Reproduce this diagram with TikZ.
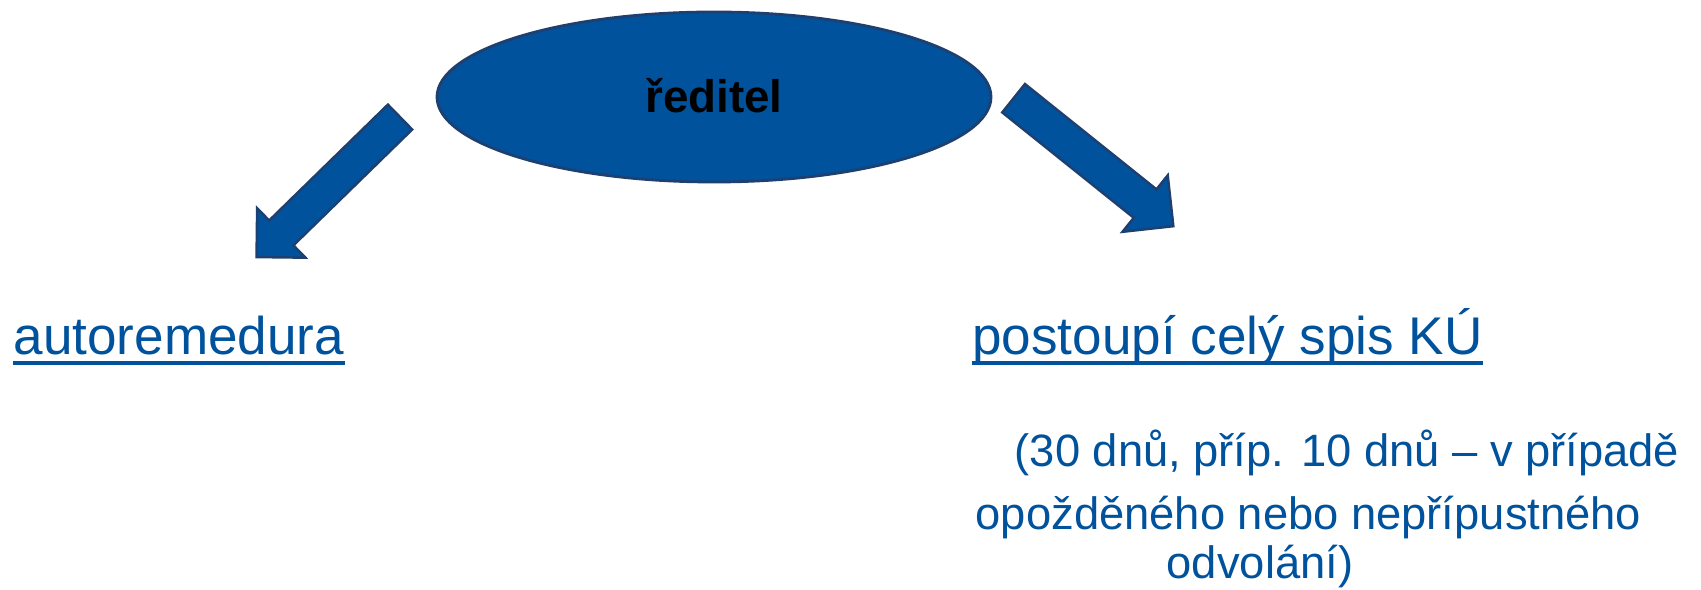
\documentclass[tikz,border=0pt]{standalone}
\usepackage{fontspec}
\setmainfont{Liberation Sans}
\usepackage{xcolor}
\usetikzlibrary{shapes.geometric, shapes.arrows, positioning}

\definecolor{boxblue}{RGB}{0,82,156}
\definecolor{edgeblue}{RGB}{30,64,112}

\tikzset{
  bigarrow/.style={single arrow, draw=edgeblue, fill=boxblue, line width=0.7pt,
    inner sep=0pt, text depth=0pt, single arrow tip angle=90, anchor=tip},
  labeltext/.style={text=boxblue, inner sep=0pt, anchor=base west,
    font=\fontsize{15.1pt}{18pt}\selectfont},
  notetext/.style={text=boxblue, inner sep=0pt, anchor=base west,
    font=\fontsize{12.9pt}{15pt}\selectfont},
  underline/.style={draw=boxblue, line width=0.04cm}
}

\begin{document}
\begin{tikzpicture}
\useasboundingbox (0,0) rectangle (17.01,5.89);

% Director
\node[ellipse, draw=edgeblue, fill=boxblue, line width=0.8pt, inner sep=0pt,
      minimum width=5.54cm, minimum height=1.70cm, text height=0.32cm, text depth=0pt,
      font=\fontsize{13pt}{15pt}\selectfont\bfseries] (director) at (7.14,4.92) {ředitel};

% Block arrows
\node[bigarrow, text height=0.323cm, minimum width=0.667cm, minimum height=2.005cm,
      single arrow head extend=0.172cm, rotate=224.3] (toauto) at (2.553,3.307) {};
\node[bigarrow, text height=0.339cm, minimum width=0.698cm, minimum height=2.047cm,
      single arrow head extend=0.18cm, rotate=-38.7] (tospis) at (11.747,3.617) {};

% Outcomes
\node[labeltext] (autorem) at (0.13,2.34) {autoremedura};
\node[labeltext] (spis) at (9.715,2.34) {postoupí celý spis KÚ};
\draw[underline] ([yshift=-0.077cm]autorem.base west) -- ([yshift=-0.077cm]autorem.base east);
\draw[underline] ([yshift=-0.077cm]spis.base west) -- ([yshift=-0.077cm]spis.base east);

% Time limit note
\node[notetext] (lhuta) at (10.14,1.22) {(30 dnů, příp. 10 dnů – v případě};
\node[notetext] (lhutb) at (9.75,0.60) {opožděného nebo nepřípustného};
\node[notetext] (lhutc) at (11.66,0.11) {odvolání)};
\end{tikzpicture}
\end{document}
